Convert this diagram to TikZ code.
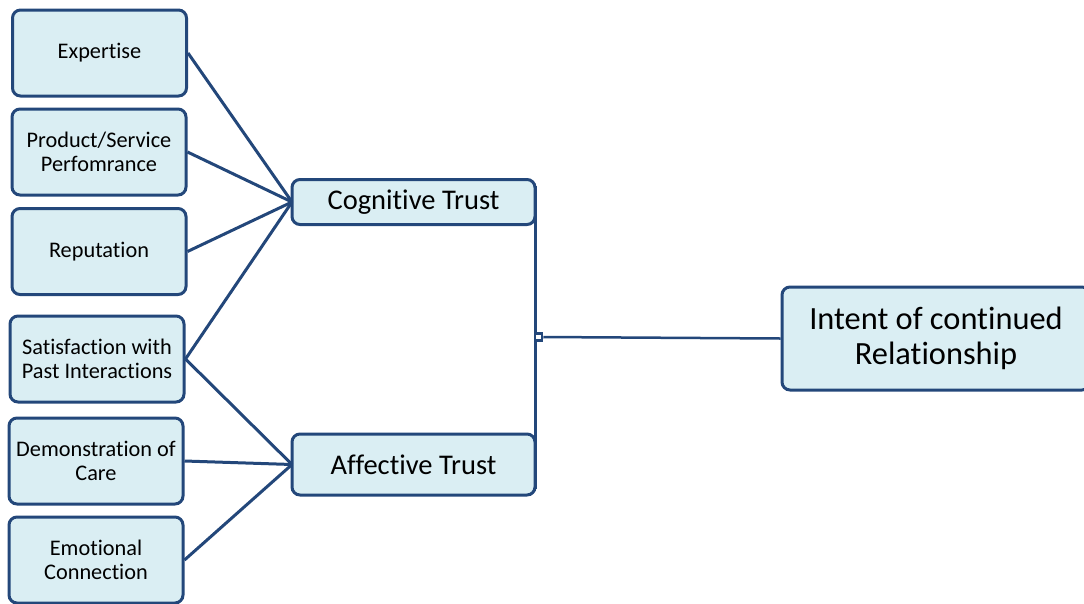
\documentclass[tikz,border=0pt]{standalone}
\usepackage{fontspec}
\setmainfont{Carlito}[Ligatures=NoCommon]
\usetikzlibrary{calc}
\definecolor{boxfill}{HTML}{DAEEF3}
\definecolor{boxline}{HTML}{23477A}
\tikzset{
	factor/.style={draw=boxline, fill=boxfill, line width=3pt, rounded corners=8pt,
		minimum width=174pt, minimum height=86pt, inner sep=0pt, align=center,
		font=\fontsize{22.3}{24.5}\selectfont},
	trust/.style={factor, outer sep=0pt, minimum width=243pt, font=\fontsize{28.5}{32}\selectfont},
	goal/.style={factor, minimum width=308pt, minimum height=103pt, font=\fontsize{32.4}{35}\selectfont},
	link/.style={draw=boxline, line width=3pt},
	joint/.style={draw=boxline, fill=white, line width=2.5pt, minimum size=7pt, inner sep=0pt}
}

\begin{document}
\begin{tikzpicture}[x=1pt, y=-1pt]
	%%%%% START %%%%%
	\useasboundingbox (0, 0) rectangle (1084, 603);
	
	% left column
	\node[factor] (expertise) at (99.5, 53) {Expertise};
	\node[factor] (product) at (99, 152) {Product/Service\\Perfomrance};
	\node[factor] (reputation) at (99, 251.5) {Reputation};
	\node[factor] (satisfaction) at (97, 359) {Satisfaction with\\Past Interactions};
	\node[factor] (care) at (96, 461) {Demonstration of\\Care};
	\node[factor] (emotion) at (96, 560) {Emotional\\Connection};
	
	% middle column
	\node[trust, minimum height=45pt] (cognitive) at (413.5, 202) {Cognitive Trust};
	\node[trust, minimum height=61pt] (affective) at (413.5, 464.5) {Affective Trust};
	
	% right
	\node[goal] (intent) at (936, 338.5) {Intent of continued\\Relationship};
	
	\draw[link] (expertise.east) -- (cognitive.west);
	\draw[link] (product.east) -- (cognitive.west);
	\draw[link] (reputation.east) -- (cognitive.west);
	\draw[link] (satisfaction.east) -- (cognitive.west);
	\draw[link] (satisfaction.east) -- (affective.west);
	\draw[link] (care.east) -- (affective.west);
	\draw[link] (emotion.east) -- (affective.west);
	
	\draw[link, shorten <=6pt, shorten >=6pt] (cognitive.north east) -- (affective.south east);
	\node[joint] (junction) at (538.5, 337) {};
	\draw[draw=boxline, line width=2.5pt] (junction.east) -- (intent.west);
	
	%%%%% END %%%%%
\end{tikzpicture}
\end{document}
